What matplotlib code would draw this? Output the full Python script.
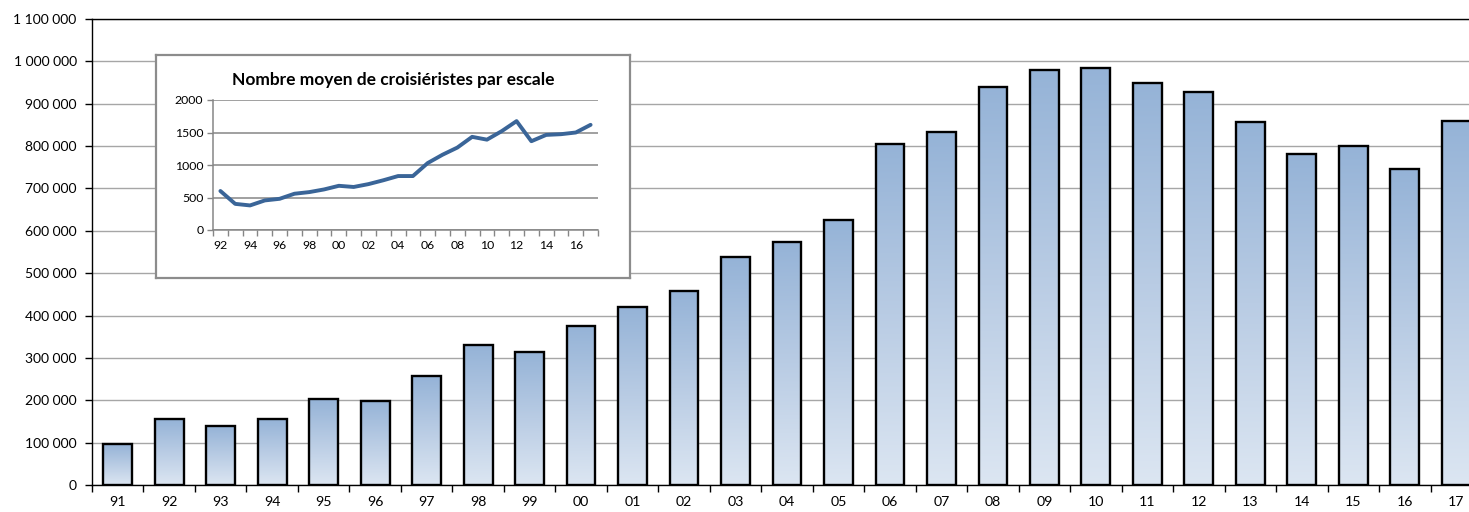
import matplotlib
matplotlib.use("Agg")
import matplotlib.pyplot as plt
import numpy as np
from matplotlib.colors import LinearSegmentedColormap
from matplotlib.ticker import FuncFormatter, MultipleLocator

plt.rcParams['font.family'] = ['Lato', 'DejaVu Sans']

# Data
years = ["91", "92", "93", "94", "95", "96", "97", "98", "99", "00", "01", "02", "03", "04",
         "05", "06", "07", "08", "09", "10", "11", "12", "13", "14", "15", "16", "17"]
passengers = [96000, 155000, 139000, 155000, 203000, 199000, 257000, 330000, 314000, 376000,
              420000, 457000, 538000, 573000, 626000, 804000, 833000, 940000, 979000, 985000,
              948000, 927000, 858000, 781000, 801000, 745000, 859000]

inset_years = ["92", "93", "94", "95", "96", "97", "98", "99", "00", "01", "02", "03", "04",
               "05", "06", "07", "08", "09", "10", "11", "12", "13", "14", "15", "16", "17"]
avg_per_call = [600, 402, 378, 455, 480, 558, 583, 624, 680, 662, 706, 765, 830, 830,
                1030, 1158, 1268, 1433, 1390, 1521, 1675, 1366, 1463, 1474, 1500, 1618]

W, H = 1469, 512
fig = plt.figure(figsize=(W / 100, H / 100), dpi=100)
fig.patch.set_facecolor("white")

# main axes (runs a little past the right edge, like the original crop)
ax = fig.add_axes([92 / W, 27 / H, 1390 / W, 466 / H])
x = np.arange(len(years))
bars = ax.bar(x, passengers, width=0.56, facecolor="none", edgecolor="black",
              linewidth=1.7, zorder=3)

grad = LinearSegmentedColormap.from_list("bar", ["#dce6f2", "#b9cce4", "#95b3d7"])
g = np.linspace(0, 1, 256).reshape(-1, 1)
for b in bars:
    x0, y0 = b.get_x(), b.get_y()
    ax.imshow(g, cmap=grad, origin="lower", aspect="auto", zorder=2,
              extent=[x0, x0 + b.get_width(), y0, y0 + b.get_height()])

ax.set_xlim(-0.5, len(years) - 0.5)
ax.set_ylim(0, 1100000)
ax.yaxis.set_major_locator(MultipleLocator(100000))
ax.yaxis.set_major_formatter(FuncFormatter(lambda v, p: f"{v:,.0f}".replace(",", " ")))
ax.set_xticks(x)
ax.set_xticklabels(years)
ax.set_xticks(np.arange(-0.5, len(years), 1), minor=True)
ax.tick_params(axis="x", which="major", length=0, pad=8, labelsize=10.2)
ax.tick_params(axis="x", which="minor", length=5, width=1, color="black", direction="out")
ax.tick_params(axis="y", length=5, width=1, pad=6, labelsize=10, direction="out")
ax.grid(axis="y", color="#a6a6a6", linewidth=1, zorder=0)
ax.set_axisbelow(True)
for s in ["left", "bottom", "top"]:
    ax.spines[s].set_color("black")
    ax.spines[s].set_linewidth(1)
ax.spines["right"].set_visible(False)

# inset frame
frame = fig.add_axes([156 / W, (H - 278) / H, 474 / W, 223 / H])
frame.set_xticks([])
frame.set_yticks([])
frame.set_facecolor("white")
for s in frame.spines.values():
    s.set_color("#8c8c8c")
    s.set_linewidth(1.6)
frame.set_zorder(5)
frame.text(0.5, 1 - 25 / 223, "Nombre moyen de croisiéristes par escale",
           transform=frame.transAxes, ha="center", va="center",
           fontsize=12.5, fontweight="bold")

# inset chart
ins = fig.add_axes([213 / W, (H - 230) / H, 385 / W, 130 / H])
ins.set_zorder(6)
ins.patch.set_alpha(0)
xi = np.arange(len(inset_years))
ins.plot(xi, avg_per_call, color="#3a6598", linewidth=2.8, solid_joinstyle="round",
         solid_capstyle="round", zorder=3)
ins.set_xlim(-0.5, len(inset_years) - 0.5)
ins.set_ylim(0, 2000)
ins.set_yticks([0, 500, 1000, 1500, 2000])
ins.set_xticks(xi[::2])
ins.set_xticklabels(inset_years[::2])
ins.set_xticks(np.arange(-0.5, len(inset_years), 1), minor=True)
ins.tick_params(axis="x", which="major", length=0, pad=7, labelsize=8.8)
ins.tick_params(axis="x", which="minor", length=4, width=1, color="#868686")
ins.tick_params(axis="y", length=4, width=1, color="#868686", labelsize=8.8, pad=3)
ins.grid(axis="y", color="#868686", linewidth=1.1, zorder=0)
for s in ["left", "bottom"]:
    ins.spines[s].set_color("#868686")
    ins.spines[s].set_linewidth(1.1)
for s in ["top", "right"]:
    ins.spines[s].set_visible(False)

fig.savefig("out.png", dpi=100)
